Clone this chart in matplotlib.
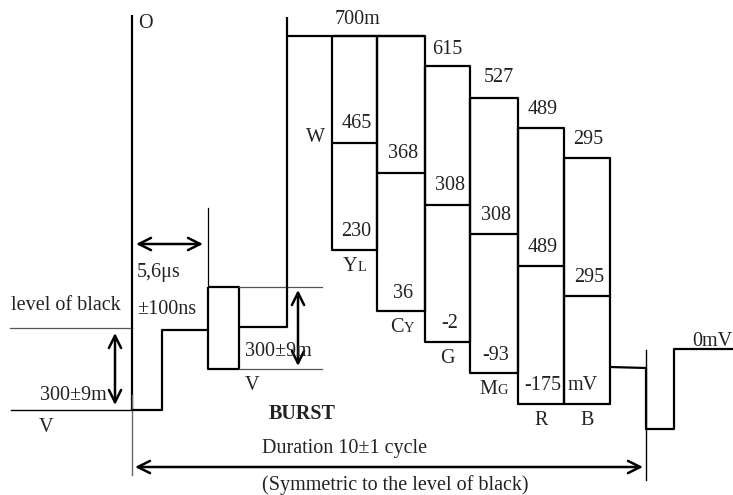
import matplotlib.pyplot as plt

plt.rcParams['font.family'] = ['Liberation Serif', 'DejaVu Serif']

# colour bars: name, top / luminance / bottom levels (mV)
bar_names = ["YL", "CY", "G", "MG", "R", "B"]
top_vals = ["700m", "", "615", "527", "489", "295"]
mid_vals = ["465", "368", "308", "308", "489", "295"]
low_vals = ["230", "36", "-2", "-93", "-175", ""]

# schematic geometry (pixel positions of the drawing)
bar_x = [332, 377, 425, 470, 518, 564, 610]
bar_top = [36, 36, 66, 98, 128, 158]
bar_mid = [143, 173, 205, 234, 266, 296]
bar_low = [250, 311, 342, 373, 404, 404]

FS = 14.5
TC = '#222222'
W, H = 733, 495
fig = plt.figure(figsize=(W / 100, H / 100), dpi=100)
ax = fig.add_axes([0, 0, 1, 1])
ax.set_xlim(0, W)
ax.set_ylim(H, 0)
ax.axis('off')

blk = dict(color='black', lw=1.6, solid_capstyle='butt')
thin = dict(color='#555555', lw=0.9)

# reference lines on the left
ax.plot([10, 132], [328, 328], **thin)
ax.plot([11, 132], [410, 410], color='black', lw=1.0)
ax.plot([132, 132], [15, 410], **blk)
ax.plot([132, 132], [395, 475], color='#666666', lw=1.0)

# sync + back porch
ax.plot([132, 162, 162, 208], [410, 410, 330, 330], **blk)
# burst
ax.plot([208, 208], [208, 287], color='black', lw=0.9)
ax.plot([208, 239, 239, 208, 208], [287, 287, 369, 369, 287], **blk)
ax.plot([239, 322], [287, 287], **thin)
ax.plot([239, 322], [369, 369], **thin)
ax.plot([239, 287, 287], [327, 327, 17], **blk)
# white level
ax.plot([287, 425], [36, 36], **blk)

# colour bars
for i in range(len(bar_names)):
    x0, x1 = bar_x[i], bar_x[i + 1]
    ax.plot([x0, x1, x1, x0, x0], [bar_top[i], bar_top[i], bar_low[i], bar_low[i], bar_top[i]], **blk)
    ax.plot([x0, x1], [bar_mid[i], bar_mid[i]], **blk)

# return to black and next sync
ax.plot([610, 646], [367, 368], **blk)
ax.plot([646, 646], [350, 480], color='black', lw=1.0)
ax.plot([646, 646, 674, 674, 733], [368, 429, 429, 349, 349], **blk)

# arrows
arr = dict(arrowstyle='<->', color='black', lw=1.8, mutation_scale=22, shrinkA=0, shrinkB=0)
ax.annotate('', xy=(115, 333), xytext=(115, 405), arrowprops=arr)
ax.annotate('', xy=(298, 290), xytext=(298, 366), arrowprops=arr)
ax.annotate('', xy=(136, 244), xytext=(203, 244), arrowprops=arr)
ax.annotate('', xy=(135, 467), xytext=(643, 467), arrowprops=arr)

def txt(x, y, s, ha='left', **kw):
    # small downward nudge: 'center' includes descender space
    ax.text(x, y + 2, s, ha=ha, va='center', color=TC, fontsize=kw.pop('fontsize', FS), **kw)

# value labels
top_pos = [(357, 17), None, (447, 47), (499, 76), (543, 107), (588, 137)]
for i, s in enumerate(top_vals):
    if s:
        txt(top_pos[i][0], top_pos[i][1], s, ha='center')
for i, s in enumerate(mid_vals):
    txt((bar_x[i] + bar_x[i + 1]) / 2 + 2, bar_mid[i] - 21, s, ha='center')
for i, s in enumerate(low_vals):
    if s:
        txt((bar_x[i] + bar_x[i + 1]) / 2 + 2, bar_low[i] - 20, s, ha='center')
txt(583, 383, "mV", ha='center')

# bar names with small-cap suffix
for i, name in enumerate(bar_names):
    cx = (bar_x[i] + bar_x[i + 1]) / 2
    y = bar_low[i] + 21
    if len(name) == 2:
        ax.text(cx + 3, y, name[0], ha='right', va='baseline', fontsize=FS, color=TC)
        ax.text(cx + 3, y, name[1], ha='left', va='baseline', fontsize=FS * 0.72, color=TC)
    else:
        ax.text(cx, y, name, ha='center', va='baseline', fontsize=FS, color=TC)
txt(315, 135, "W", ha='center')

# other annotations
txt(145, 22, "O", ha='center')
txt(11, 303, "level of black")
txt(40, 393, "300±9m")
txt(46, 426, "V", ha='center')
txt(137, 271, "5,6μs")
txt(137, 307, "±100ns")
txt(245, 349, "300±9m")
txt(252, 384, "V", ha='center')
txt(302, 412, "BURST", ha='center', fontweight='bold')
txt(712, 339, "0mV", ha='center')
txt(262, 447, "Duration 10±1 cycle")
txt(262, 483, "(Symmetric to the level of black)")

fig.savefig("out.png", dpi=100)
